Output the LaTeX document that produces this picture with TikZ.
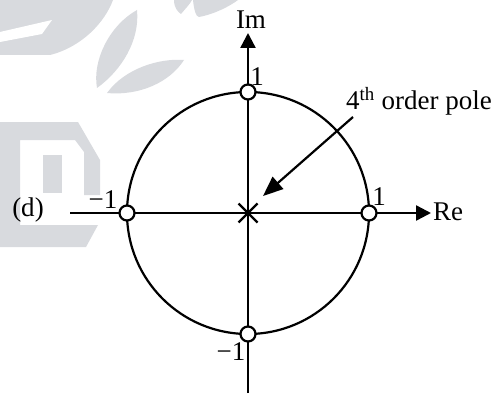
\documentclass[tikz,border=0pt]{standalone}
\usepackage{fontspec}
\setmainfont{Liberation Serif}
\usetikzlibrary{arrows.meta}
\definecolor{wm}{RGB}{216,218,222}
\tikzset{
  ax/.style={line width=2.4pt, -{Triangle[length=15pt,width=15pt]}},
  zero/.style={circle, draw, fill=white, line width=2.2pt, minimum size=15pt, inner sep=0pt},
  lab/.style={inner sep=0pt, font=\fontsize{27}{31}\selectfont},
}
\begin{document}
\begin{tikzpicture}[x=1pt,y=-1pt]
\useasboundingbox (0,0) rectangle (497,393);
% watermark
\fill[wm] (0,0) -- (113,0) .. controls (105,22) and (82,47) .. (50,55) -- (0,55) -- cycle;
\fill[white] (0,32) -- (52,20) -- (42,34) -- (0,42) -- cycle;
\fill[wm] (137,10) .. controls (110,25) and (92,60) .. (97,88) .. controls (122,70) and (140,40) .. (137,10) -- cycle;
\fill[wm] (107,93) .. controls (125,68) and (160,58) .. (184,60) .. controls (170,82) and (140,96) .. (107,93) -- cycle;
\fill[wm] (174,0) .. controls (174,8) and (178,12) .. (181,14) .. controls (186,8) and (190,4) .. (192,0) -- cycle;
\fill[wm] (193,0) .. controls (194,10) and (196,17) .. (199,17) .. controls (215,14) and (230,6) .. (238,0) -- cycle;
\fill[wm] (0,122) -- (78,122) -- (100,160) -- (100,195) -- (84,195) -- (84,152) -- (75,140) -- (20,140)
  -- (20,225) -- (98,225) -- (86,247) -- (0,247) -- cycle;
\fill[wm] (43,155) rectangle (62,193);
% geometry
\coordinate (O) at (248,213);
\coordinate (xl) at (70,213);
\coordinate (xr) at (431,213);
\coordinate (yt) at (248,33);
\coordinate (yb) at (248,393);
\draw[line width=2.2pt] (O) circle[radius=121pt];
\draw[ax] (xl) -- (xr);
\draw[ax] (yb) -- (yt);
\draw[line width=2.2pt] ([shift={(-9.5pt,-9.5pt)}]O) -- ([shift={(9.5pt,9.5pt)}]O)
  ([shift={(-9.5pt,9.5pt)}]O) -- ([shift={(9.5pt,-9.5pt)}]O);
\node[zero] (zr) at (369,213) {};
\node[zero] (zl) at (127,213) {};
\node[zero] (zt) at (248,92) {};
\node[zero] (zb) at (248,334) {};
% labels
\node[lab] (im) at (251,20) {Im};
\node[lab] (re) at (448,212) {Re};
\node[lab] (d) at (28,210) {(d)};
\node[lab] (lm1) at (103,200) {−1};
\node[lab] (l1t) at (257,77) {1};
\node[lab] (l1r) at (379,197) {1};
\node[lab] (lm1b) at (231,352) {−1};
\node[lab, anchor=base west] (pole) at (346,110) {4\textsuperscript{th} order pole};
\coordinate (ps) at (353,117);
\coordinate (pt) at (263,196);
\draw[line width=2.2pt, -{Triangle[length=20pt,width=16pt]}] (ps) -- (pt);
\end{tikzpicture}
\end{document}
